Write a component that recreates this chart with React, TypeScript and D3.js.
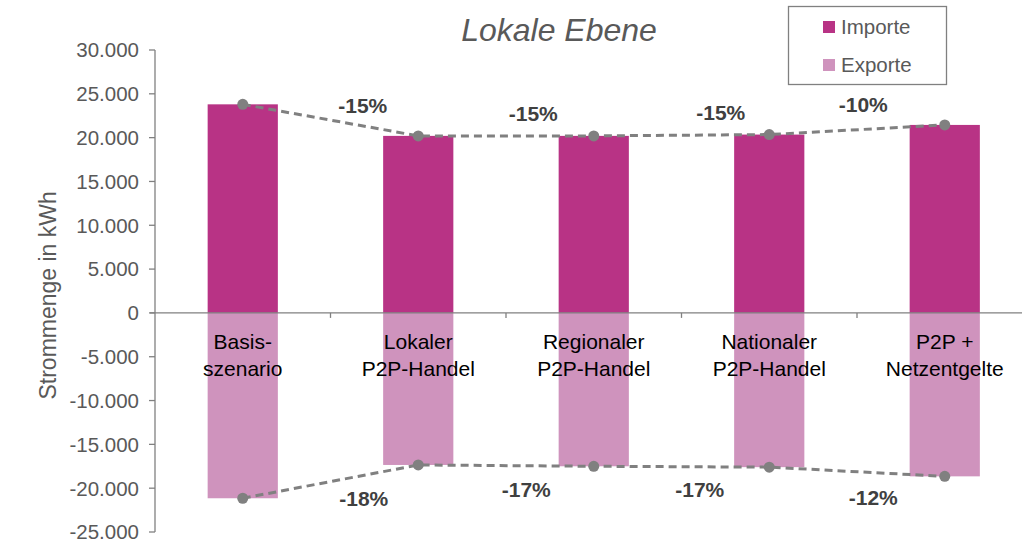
import React from 'react';
import * as d3 from 'd3';

const categories = [
  ['Basis-', 'szenario'],
  ['Lokaler', 'P2P-Handel'],
  ['Regionaler', 'P2P-Handel'],
  ['Nationaler', 'P2P-Handel'],
  ['P2P +', 'Netzentgelte'],
];
const importe = [23800, 20200, 20200, 20350, 21450];
const exporte = [-21150, -17350, -17500, -17600, -18650];
const importLabels = ['-15%', '-15%', '-15%', '-10%'];
const exportLabels = ['-18%', '-17%', '-17%', '-12%'];
const yTicks = [30000, 25000, 20000, 15000, 10000, 5000, 0, -5000, -10000, -15000, -20000, -25000];

// label placement (layout only): x shift from left bar centre, y shift from line
const topLabelPos = [[120, -30], [115, -22], [127, -22], [94, -20]];
const botLabelPos = [[121, 33], [108, 23], [106, 22], [104, 21]];

const W = 1022;
const H = 539;
const FONT = 'Liberation Sans, Arial, sans-serif';
const C_IMP = '#b83385';
const C_EXP = '#cf93bd';
const GREY = '#808080';
const TXT = '#595959';

const fmt = (v: number) => d3.format(',')(v).replace(/,/g, '.').replace('−', '-');

export default function App() {
  const x = d3.scaleBand<number>().domain(d3.range(categories.length)).range([155, 1032.5]).paddingInner(0.6).paddingOuter(0.3);
  const y = d3.scaleLinear().domain([-25000, 30000]).range([532, 50]);
  const cx = (i: number) => (x(i) as number) + x.bandwidth() / 2;
  const step = x.step();

  const line = d3.line<number>().x((_, i) => cx(i)).y(d => y(d));

  return (
    <svg width={W} height={H} style={{ position: 'absolute', left: 0, top: 0 }} fontFamily={FONT}>
      <rect width={W} height={H} fill="#fff" />
      <text x={559} y={41} textAnchor="middle" fontSize={32} fontStyle="italic" fill={TXT}>Lokale Ebene</text>

      {/* y axis */}
      <line x1={155} x2={155} y1={y(30000)} y2={y(-25000)} stroke={GREY} strokeWidth={1.3} />
      {yTicks.map(t => (
        <g key={t}>
          <line x1={149} x2={155} y1={y(t)} y2={y(t)} stroke={GREY} strokeWidth={1.3} />
          <text x={139} y={y(t)} dy="0.36em" textAnchor="end" fontSize={20.5} fill={TXT}>{fmt(t)}</text>
        </g>
      ))}
      <text transform={`translate(56,${y(2000)}) rotate(-90)`} textAnchor="middle" fontSize={23} fill={TXT}>Strommenge in kWh</text>

      {/* bars */}
      {importe.map((v, i) => (
        <rect key={'i' + i} x={x(i)} y={y(v)} width={x.bandwidth()} height={y(0) - y(v)} fill={C_IMP} />
      ))}
      {exporte.map((v, i) => (
        <rect key={'e' + i} x={x(i)} y={y(0)} width={x.bandwidth()} height={y(v) - y(0)} fill={C_EXP} />
      ))}

      {/* zero line with category ticks */}
      <line x1={150} x2={W} y1={y(0)} y2={y(0)} stroke={GREY} strokeWidth={1.3} />
      {d3.range(1, categories.length + 1).map(k => (
        <line key={'ct' + k} x1={155 + k * step} x2={155 + k * step} y1={y(0)} y2={y(0) + 5} stroke={GREY} strokeWidth={1.3} />
      ))}

      {/* category labels */}
      {categories.map((c, i) => (
        <text key={'c' + i} x={cx(i)} y={y(0) + 36} textAnchor="middle" fontSize={21} fill="#000">
          <tspan x={cx(i)}>{c[0]}</tspan>
          <tspan x={cx(i)} dy={27}>{c[1]}</tspan>
        </text>
      ))}

      {/* change lines */}
      <path d={line(importe) || ''} fill="none" stroke={GREY} strokeWidth={3} strokeDasharray="8 5" />
      <path d={line(exporte) || ''} fill="none" stroke={GREY} strokeWidth={3} strokeDasharray="8 5" />
      {importe.map((v, i) => <circle key={'ci' + i} cx={cx(i)} cy={y(v)} r={5.5} fill={GREY} />)}
      {exporte.map((v, i) => <circle key={'ce' + i} cx={cx(i)} cy={y(v)} r={5.5} fill={GREY} />)}

      {importLabels.map((l, i) => (
        <text key={'li' + i} x={cx(i) + topLabelPos[i][0]} y={y(importe[i + 1]) + topLabelPos[i][1]} dy="0.36em" textAnchor="middle" fontSize={21} fontWeight="bold" fill="#404040">{l}</text>
      ))}
      {exportLabels.map((l, i) => (
        <text key={'le' + i} x={cx(i) + botLabelPos[i][0]} y={y(exporte[i + 1]) + botLabelPos[i][1]} dy="0.36em" textAnchor="middle" fontSize={21} fontWeight="bold" fill="#404040">{l}</text>
      ))}

      {/* legend */}
      <rect x={788.5} y={6.5} width={158} height={78} fill="#fff" stroke={GREY} strokeWidth={1.3} />
      <rect x={823} y={21} width={12} height={12} fill={C_IMP} />
      <text x={841} y={27} dy="0.36em" fontSize={20.5} fill={TXT}>Importe</text>
      <rect x={823} y={59} width={12} height={12} fill={C_EXP} />
      <text x={841} y={65} dy="0.36em" fontSize={20.5} fill={TXT}>Exporte</text>
    </svg>
  );
}
